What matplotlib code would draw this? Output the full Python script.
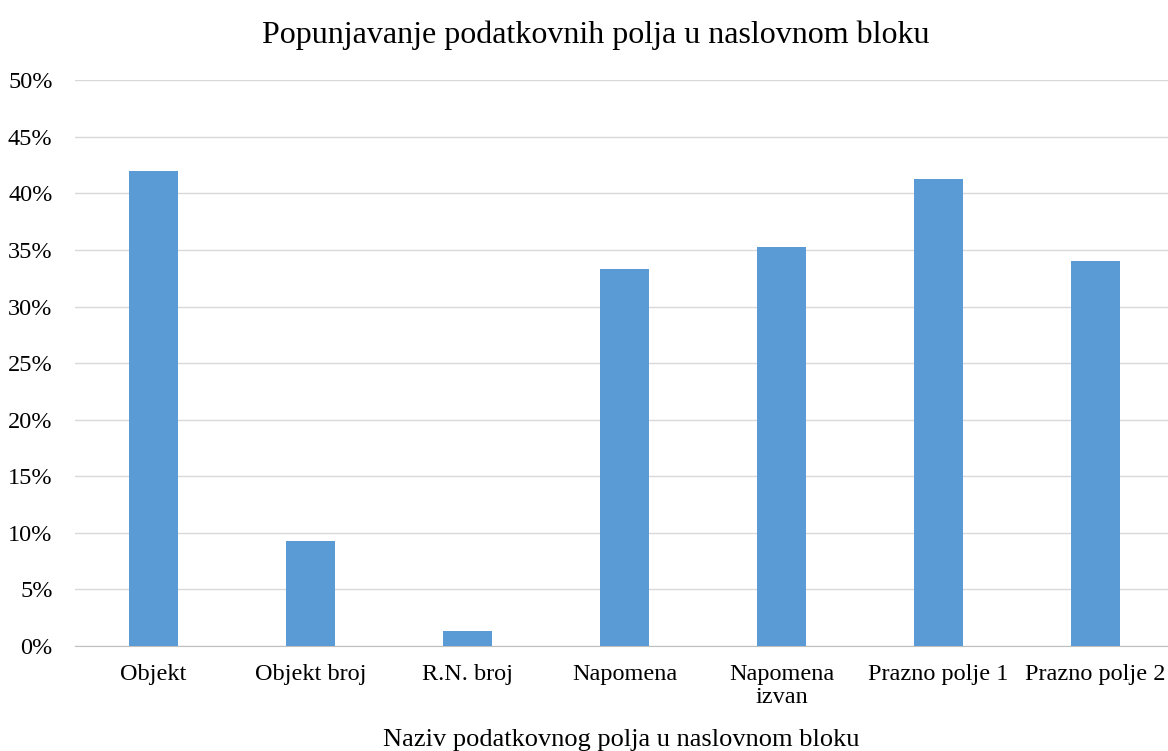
import matplotlib.pyplot as plt
import matplotlib.ticker as ticker

categories = ["Objekt", "Objekt broj", "R.N. broj", "Napomena",
              "Napomena\nizvan", "Prazno polje 1", "Prazno polje 2"]
values = [0.42, 0.093, 0.013, 0.333, 0.353, 0.413, 0.34]

plt.rcParams["font.family"] = ["Liberation Serif", "DejaVu Serif"]

fig = plt.figure(figsize=(11.68, 7.51), dpi=100)
ax = fig.add_axes([0.064, 0.140, 0.936, 0.753])

x = range(len(categories))
ax.bar(x, values, width=0.31, color="#5B9BD5", zorder=3)

ax.set_ylim(0, 0.5)
ax.set_xlim(-0.5, 6.46)
ax.yaxis.set_major_locator(ticker.MultipleLocator(0.05))
ax.yaxis.set_major_formatter(ticker.PercentFormatter(1.0, decimals=0))
ax.set_xticks(list(x))
ax.set_xticklabels(categories, fontsize=17.5, va="top", linespacing=1.15)
ax.tick_params(axis="y", labelsize=17.5, length=0, pad=16)
ax.tick_params(axis="x", length=0, pad=13)
ax.grid(axis="y", color="#D9D9D9", linewidth=1, zorder=0)

for s in ["top", "right", "left"]:
    ax.spines[s].set_visible(False)
ax.spines["bottom"].set_color("#BFBFBF")

ax.set_title("Popunjavanje podatkovnih polja u naslovnom bloku", fontsize=23, pad=27, x=0.477)
fig.text(0.532, 0.0146, "Naziv podatkovnog polja u naslovnom bloku",
         fontsize=19, ha="center", va="center")

fig.savefig("out.png", dpi=100)
